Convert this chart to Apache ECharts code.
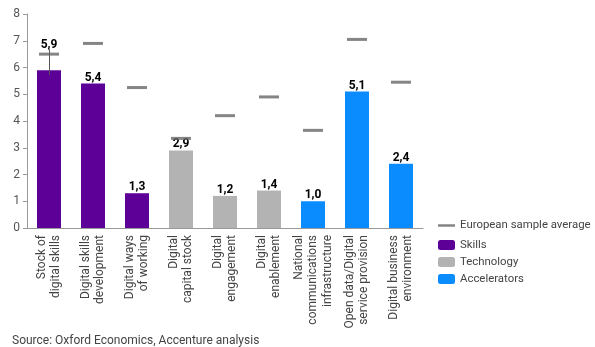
<!DOCTYPE html>
<html><head><meta charset="utf-8">
<script src="https://cdn.jsdelivr.net/npm/echarts@6/dist/echarts.min.js"></script>
<style>html,body{margin:0;padding:0;background:#fff}#c{width:595px;height:347px}</style>
</head><body><div id="c"></div>
<script>
const categories = ["Stock of\ndigital skills","Digital skills\ndevelopment","Digital ways\nof working","Digital\ncapital stock","Digital\nengagement","Digital\nenablement","National\ncommunications\ninfrastructure","Open data/Digital\nservice provision","Digital business\nenvironment"];
const groups = ["Skills","Skills","Skills","Technology","Technology","Technology","Accelerators","Accelerators","Accelerators"];
const values = [5.9, 5.4, 1.3, 2.9, 1.2, 1.4, 1.0, 5.1, 2.4];
const europeanAverage = [6.5, 6.9, 5.25, 3.35, 4.2, 4.9, 3.65, 7.05, 5.45];
const errorRange = [5.72, 6.68]; // thin vertical line on first bar
const yTicks = [0,1,2,3,4,5,6,7,8];
const groupNames = ["Skills","Technology","Accelerators"];
const groupColors = {Skills:"#5c0097", Technology:"#b3b3b3", Accelerators:"#0a8cff"};

const font = "Roboto, 'Liberation Sans', sans-serif";
const barSeries = groupNames.map(g => ({
  name: g, type: 'bar', stack: 'all', barWidth: 24,
  itemStyle: {color: groupColors[g]},
  label: {show: true, position: 'top', distance: 0, color: '#000', fontWeight: 'bold', fontSize: 12, fontFamily: font,
    formatter: p => p.value.toFixed(1).replace('.', ',')},
  data: values.map((v, i) => groups[i] === g ? (i === 0 ? {value: v, label: {distance: 19}} : v) : '-'),
  markLine: g === 'Skills' ? {silent: true, symbol: 'none', label: {show: false},
    lineStyle: {color: '#555', width: 1, type: 'solid'},
    data: [[{coord: [categories[0], errorRange[0]]}, {coord: [categories[0], errorRange[1]]}]]} : undefined
}));

const chart = echarts.init(document.getElementById('c'), null, {renderer: 'canvas'});
chart.setOption({
  animation: false,
  textStyle: {fontFamily: font},
  grid: {left: 27, right: 172, top: 14, bottom: 119},
  legend: [
    {data: ['European sample average'], left: 438, top: 220, padding: 0, itemWidth: 17, itemHeight: 2.5,
     textStyle: {fontSize: 11.4, color: '#444', fontFamily: font}, itemGap: 5, selectedMode: false},
    {data: groupNames, orient: 'vertical', left: 438, top: 238, padding: 0, itemWidth: 17, itemHeight: 10, itemGap: 3,
     textStyle: {fontSize: 11.4, color: '#444', fontFamily: font, lineHeight: 14}, selectedMode: false}
  ],
  xAxis: {type: 'category', data: categories,
    axisLine: {lineStyle: {color: '#999'}}, axisTick: {show: false},
    axisLabel: {rotate: 90, interval: 0, margin: 7, fontSize: 12, lineHeight: 14.5, color: '#444', fontFamily: font}},
  yAxis: {type: 'value', min: 0, max: 8, interval: 1,
    axisLine: {show: true, lineStyle: {color: '#999'}}, axisTick: {show: true, length: 4, lineStyle: {color: '#999'}},
    splitLine: {show: false},
    axisLabel: {fontSize: 12, color: '#555', margin: 7, fontFamily: font, formatter: v => yTicks.includes(v) ? String(v) : ''}},
  series: [
    ...barSeries,
    {name: 'European sample average', type: 'scatter', symbol: 'rect', symbolSize: [20, 3], z: 5,
     itemStyle: {color: '#666'}, data: europeanAverage}
  ],
  graphic: [{type: 'text', left: 12, top: 335, style: {text: 'Source: Oxford Economics, Accenture analysis', fontSize: 12, fill: '#444', fontFamily: font}}]
});
</script></body></html>
